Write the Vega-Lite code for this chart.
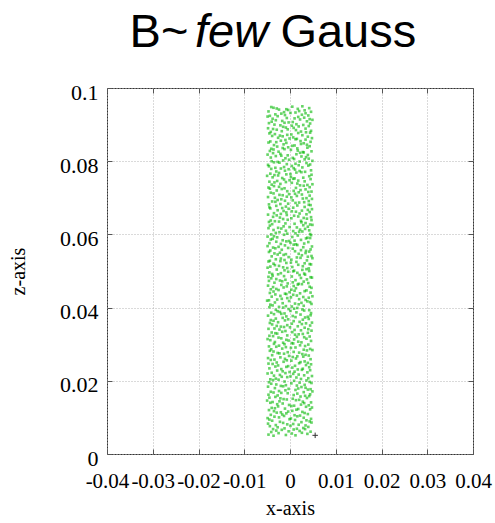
{
  "$schema": "https://vega.github.io/schema/vega-lite/v6.json",
  "width": 366,
  "height": 366,
  "autosize": {"type": "none"},
  "padding": {"left": 107, "top": 88, "right": 22, "bottom": 69},
  "config": {
    "view": {"stroke": "#333333", "strokeWidth": 1},
    "axis": {
      "labelFont": "Liberation Serif",
      "titleFont": "Liberation Serif",
      "titleFontWeight": "normal",
      "labelColor": "#000000",
      "titleColor": "#000000",
      "gridColor": "#b4b4b4",
      "gridDash": [1, 2],
      "gridWidth": 1,
      "tickColor": "#555555",
      "tickSize": -5,
      "domain": false
    }
  },
  "datasets": {
    "cloud": [
      {"x":-0.0047,"z":0.0053},{"x":0.0012,"z":0.0051},{"x":-0.0025,"z":0.0057},{"x":0.0038,"z":0.0055},{"x":-0.0009,"z":0.0052},{"x":0.0026,"z":0.0058},{"x":-0.0036,"z":0.0050},{"x":0.0004,"z":0.0056},
      {"x":0.0045,"z":0.0061},{"x":-0.0018,"z":0.0066},{"x":0.0021,"z":0.0063},{"x":-0.0041,"z":0.0060},{"x":0.0008,"z":0.0067},{"x":-0.0030,"z":0.0064},{"x":0.0033,"z":0.0068},{"x":-0.0003,"z":0.0062},
      {"x":-0.0012,"z":0.0070},{"x":0.0040,"z":0.0074},{"x":-0.0044,"z":0.0076},{"x":0.0015,"z":0.0069},{"x":-0.0027,"z":0.0073},{"x":0.0029,"z":0.0071},{"x":0.0001,"z":0.0077},{"x":-0.0037,"z":0.0068},
      {"x":0.0019,"z":0.0080},{"x":-0.0048,"z":0.0083},{"x":0.0034,"z":0.0078},{"x":-0.0015,"z":0.0085},{"x":0.0007,"z":0.0082},{"x":-0.0031,"z":0.0079},{"x":0.0047,"z":0.0086},{"x":-0.0006,"z":0.0081},
      {"x":-0.0022,"z":0.0088},{"x":0.0011,"z":0.0093},{"x":-0.0039,"z":0.0091},{"x":0.0043,"z":0.0089},{"x":-0.0001,"z":0.0095},{"x":0.0025,"z":0.0087},{"x":-0.0045,"z":0.0094},{"x":0.0036,"z":0.0092},
      {"x":0.0002,"z":0.0097},{"x":-0.0034,"z":0.0102},{"x":0.0030,"z":0.0099},{"x":-0.0013,"z":0.0104},{"x":0.0046,"z":0.0096},{"x":-0.0024,"z":0.0100},{"x":0.0016,"z":0.0103},{"x":-0.0049,"z":0.0098},
      {"x":-0.0042,"z":0.0107},{"x":0.0022,"z":0.0105},{"x":-0.0008,"z":0.0111},{"x":0.0039,"z":0.0109},{"x":-0.0029,"z":0.0113},{"x":0.0010,"z":0.0106},{"x":-0.0017,"z":0.0108},{"x":0.0032,"z":0.0112},
      {"x":0.0027,"z":0.0115},{"x":-0.0046,"z":0.0120},{"x":0.0005,"z":0.0118},{"x":-0.0020,"z":0.0114},{"x":0.0044,"z":0.0122},{"x":-0.0035,"z":0.0117},{"x":0.0014,"z":0.0121},{"x":-0.0004,"z":0.0116},
      {"x":-0.0011,"z":0.0124},{"x":0.0035,"z":0.0129},{"x":-0.0040,"z":0.0126},{"x":0.0018,"z":0.0123},{"x":-0.0026,"z":0.0130},{"x":0.0048,"z":0.0127},{"x":0.0003,"z":0.0131},{"x":-0.0033,"z":0.0125},
      {"x":0.0041,"z":0.0133},{"x":-0.0016,"z":0.0138},{"x":0.0024,"z":0.0135},{"x":-0.0043,"z":0.0140},{"x":0.0009,"z":0.0132},{"x":-0.0028,"z":0.0136},{"x":0.0031,"z":0.0139},{"x":-0.0002,"z":0.0134},
      {"x":-0.0038,"z":0.0142},{"x":0.0013,"z":0.0147},{"x":-0.0023,"z":0.0144},{"x":0.0046,"z":0.0141},{"x":-0.0007,"z":0.0149},{"x":0.0028,"z":0.0143},{"x":-0.0050,"z":0.0146},{"x":0.0020,"z":0.0148},
      {"x":0.0006,"z":0.0151},{"x":-0.0032,"z":0.0156},{"x":0.0037,"z":0.0153},{"x":-0.0014,"z":0.0150},{"x":0.0023,"z":0.0157},{"x":-0.0045,"z":0.0154},{"x":0.0042,"z":0.0158},{"x":-0.0021,"z":0.0152},
      {"x":-0.0027,"z":0.0160},{"x":0.0016,"z":0.0165},{"x":-0.0047,"z":0.0162},{"x":0.0033,"z":0.0159},{"x":-0.0005,"z":0.0166},{"x":0.0044,"z":0.0163},{"x":-0.0019,"z":0.0167},{"x":0.0008,"z":0.0161},
      {"x":0.0030,"z":0.0169},{"x":-0.0010,"z":0.0174},{"x":0.0049,"z":0.0171},{"x":-0.0036,"z":0.0168},{"x":0.0012,"z":0.0175},{"x":-0.0024,"z":0.0172},{"x":0.0039,"z":0.0176},{"x":-0.0042,"z":0.0170},
      {"x":-0.0003,"z":0.0178},{"x":0.0025,"z":0.0183},{"x":-0.0033,"z":0.0180},{"x":0.0045,"z":0.0177},{"x":-0.0015,"z":0.0185},{"x":0.0018,"z":0.0179},{"x":-0.0048,"z":0.0184},{"x":0.0034,"z":0.0181},
      {"x":0.0015,"z":0.0187},{"x":-0.0041,"z":0.0192},{"x":0.0032,"z":0.0189},{"x":-0.0020,"z":0.0186},{"x":0.0047,"z":0.0194},{"x":-0.0009,"z":0.0188},{"x":0.0003,"z":0.0193},{"x":-0.0030,"z":0.0190},
      {"x":-0.0046,"z":0.0196},{"x":0.0036,"z":0.0201},{"x":-0.0012,"z":0.0198},{"x":0.0021,"z":0.0195},{"x":-0.0025,"z":0.0203},{"x":0.0009,"z":0.0200},{"x":0.0043,"z":0.0197},{"x":-0.0037,"z":0.0202},
      {"x":0.0024,"z":0.0205},{"x":-0.0006,"z":0.0210},{"x":0.0040,"z":0.0207},{"x":-0.0043,"z":0.0204},{"x":0.0001,"z":0.0212},{"x":-0.0031,"z":0.0206},{"x":0.0014,"z":0.0209},{"x":-0.0018,"z":0.0211},
      {"x":-0.0035,"z":0.0214},{"x":0.0007,"z":0.0219},{"x":-0.0022,"z":0.0216},{"x":0.0048,"z":0.0213},{"x":-0.0010,"z":0.0221},{"x":0.0031,"z":0.0215},{"x":-0.0049,"z":0.0220},{"x":0.0019,"z":0.0217},
      {"x":0.0038,"z":0.0223},{"x":-0.0028,"z":0.0228},{"x":0.0010,"z":0.0225},{"x":-0.0040,"z":0.0222},{"x":0.0026,"z":0.0230},{"x":-0.0001,"z":0.0224},{"x":0.0044,"z":0.0229},{"x":-0.0016,"z":0.0226},
      {"x":-0.0019,"z":0.0232},{"x":0.0042,"z":0.0237},{"x":-0.0045,"z":0.0234},{"x":0.0017,"z":0.0231},{"x":-0.0032,"z":0.0239},{"x":0.0005,"z":0.0236},{"x":0.0028,"z":0.0233},{"x":-0.0008,"z":0.0238},
      {"x":0.0011,"z":0.0241},{"x":-0.0038,"z":0.0246},{"x":0.0035,"z":0.0243},{"x":-0.0004,"z":0.0240},{"x":0.0020,"z":0.0248},{"x":-0.0026,"z":0.0242},{"x":0.0046,"z":0.0245},{"x":-0.0047,"z":0.0247},
      {"x":-0.0029,"z":0.0250},{"x":0.0003,"z":0.0255},{"x":-0.0014,"z":0.0252},{"x":0.0039,"z":0.0249},{"x":-0.0042,"z":0.0257},{"x":0.0023,"z":0.0251},{"x":-0.0007,"z":0.0256},{"x":0.0032,"z":0.0253},
      {"x":0.0045,"z":0.0259},{"x":-0.0021,"z":0.0264},{"x":0.0013,"z":0.0261},{"x":-0.0034,"z":0.0258},{"x":0.0029,"z":0.0266},{"x":-0.0011,"z":0.0260},{"x":0.0006,"z":0.0265},{"x":-0.0048,"z":0.0262},
      {"x":-0.0002,"z":0.0268},{"x":0.0027,"z":0.0273},{"x":-0.0039,"z":0.0270},{"x":0.0016,"z":0.0267},{"x":-0.0023,"z":0.0275},{"x":0.0041,"z":0.0269},{"x":-0.0013,"z":0.0274},{"x":0.0034,"z":0.0271},
      {"x":0.0020,"z":0.0277},{"x":-0.0044,"z":0.0282},{"x":0.0008,"z":0.0279},{"x":-0.0027,"z":0.0276},{"x":0.0049,"z":0.0284},{"x":-0.0005,"z":0.0278},{"x":0.0037,"z":0.0283},{"x":-0.0036,"z":0.0280},
      {"x":-0.0041,"z":0.0286},{"x":0.0012,"z":0.0291},{"x":-0.0017,"z":0.0288},{"x":0.0030,"z":0.0285},{"x":-0.0030,"z":0.0293},{"x":0.0002,"z":0.0290},{"x":0.0044,"z":0.0287},{"x":-0.0009,"z":0.0292},
      {"x":0.0033,"z":0.0295},{"x":-0.0012,"z":0.0300},{"x":0.0022,"z":0.0297},{"x":-0.0046,"z":0.0294},{"x":0.0007,"z":0.0302},{"x":-0.0024,"z":0.0296},{"x":0.0040,"z":0.0299},{"x":-0.0035,"z":0.0301},
      {"x":-0.0015,"z":0.0304},{"x":0.0046,"z":0.0309},{"x":-0.0033,"z":0.0306},{"x":0.0004,"z":0.0303},{"x":-0.0043,"z":0.0311},{"x":0.0025,"z":0.0305},{"x":-0.0003,"z":0.0310},{"x":0.0018,"z":0.0307},
      {"x":0.0009,"z":0.0313},{"x":-0.0025,"z":0.0318},{"x":0.0036,"z":0.0315},{"x":-0.0008,"z":0.0312},{"x":0.0015,"z":0.0320},{"x":-0.0049,"z":0.0314},{"x":0.0031,"z":0.0319},{"x":-0.0019,"z":0.0316},
      {"x":-0.0037,"z":0.0322},{"x":0.0019,"z":0.0327},{"x":-0.0006,"z":0.0324},{"x":0.0043,"z":0.0321},{"x":-0.0028,"z":0.0329},{"x":0.0011,"z":0.0326},{"x":-0.0045,"z":0.0323},{"x":0.0028,"z":0.0328},
      {"x":0.0039,"z":0.0331},{"x":-0.0010,"z":0.0336},{"x":0.0005,"z":0.0333},{"x":-0.0032,"z":0.0330},{"x":0.0024,"z":0.0338},{"x":-0.0040,"z":0.0332},{"x":0.0047,"z":0.0337},{"x":-0.0017,"z":0.0334},
      {"x":-0.0023,"z":0.0340},{"x":0.0032,"z":0.0345},{"x":-0.0047,"z":0.0342},{"x":0.0010,"z":0.0339},{"x":-0.0013,"z":0.0347},{"x":0.0040,"z":0.0341},{"x":0.0000,"z":0.0346},{"x":-0.0034,"z":0.0343},
      {"x":0.0017,"z":0.0349},{"x":-0.0039,"z":0.0354},{"x":0.0044,"z":0.0351},{"x":-0.0020,"z":0.0348},{"x":0.0004,"z":0.0356},{"x":-0.0029,"z":0.0350},{"x":0.0026,"z":0.0355},{"x":-0.0006,"z":0.0352},
      {"x":-0.0044,"z":0.0358},{"x":0.0008,"z":0.0363},{"x":-0.0026,"z":0.0360},{"x":0.0035,"z":0.0357},{"x":-0.0011,"z":0.0365},{"x":0.0048,"z":0.0359},{"x":-0.0036,"z":0.0364},{"x":0.0021,"z":0.0361},
      {"x":0.0028,"z":0.0367},{"x":-0.0016,"z":0.0372},{"x":0.0041,"z":0.0369},{"x":-0.0042,"z":0.0366},{"x":0.0012,"z":0.0374},{"x":-0.0004,"z":0.0368},{"x":0.0033,"z":0.0373},{"x":-0.0031,"z":0.0370},
      {"x":-0.0008,"z":0.0376},{"x":0.0023,"z":0.0381},{"x":-0.0048,"z":0.0378},{"x":0.0039,"z":0.0375},{"x":-0.0019,"z":0.0383},{"x":0.0006,"z":0.0377},{"x":-0.0035,"z":0.0382},{"x":0.0045,"z":0.0379},
      {"x":0.0046,"z":0.0385},{"x":-0.0027,"z":0.0390},{"x":0.0014,"z":0.0387},{"x":-0.0012,"z":0.0384},{"x":0.0031,"z":0.0392},{"x":-0.0041,"z":0.0386},{"x":0.0001,"z":0.0391},{"x":-0.0022,"z":0.0388},
      {"x":-0.0031,"z":0.0394},{"x":0.0016,"z":0.0399},{"x":-0.0003,"z":0.0396},{"x":0.0042,"z":0.0393},{"x":-0.0045,"z":0.0401},{"x":0.0027,"z":0.0395},{"x":-0.0015,"z":0.0400},{"x":0.0009,"z":0.0397},
      {"x":0.0004,"z":0.0403},{"x":-0.0043,"z":0.0408},{"x":0.0030,"z":0.0405},{"x":-0.0024,"z":0.0402},{"x":0.0047,"z":0.0410},{"x":-0.0009,"z":0.0404},{"x":0.0019,"z":0.0409},{"x":-0.0038,"z":0.0406},
      {"x":-0.0016,"z":0.0412},{"x":0.0038,"z":0.0417},{"x":-0.0033,"z":0.0414},{"x":0.0011,"z":0.0411},{"x":-0.0050,"z":0.0419},{"x":0.0025,"z":0.0413},{"x":-0.0002,"z":0.0418},{"x":0.0044,"z":0.0415},
      {"x":0.0034,"z":0.0421},{"x":-0.0006,"z":0.0426},{"x":0.0020,"z":0.0423},{"x":-0.0046,"z":0.0420},{"x":0.0002,"z":0.0428},{"x":-0.0028,"z":0.0422},{"x":0.0041,"z":0.0427},{"x":-0.0018,"z":0.0424},
      {"x":-0.0040,"z":0.0430},{"x":0.0007,"z":0.0435},{"x":-0.0021,"z":0.0432},{"x":0.0029,"z":0.0429},{"x":-0.0008,"z":0.0437},{"x":0.0049,"z":0.0431},{"x":-0.0032,"z":0.0436},{"x":0.0015,"z":0.0433},
      {"x":0.0022,"z":0.0439},{"x":-0.0036,"z":0.0444},{"x":0.0045,"z":0.0441},{"x":-0.0011,"z":0.0438},{"x":0.0010,"z":0.0446},{"x":-0.0044,"z":0.0440},{"x":0.0032,"z":0.0445},{"x":-0.0001,"z":0.0442},
      {"x":-0.0025,"z":0.0448},{"x":0.0013,"z":0.0453},{"x":-0.0042,"z":0.0450},{"x":0.0036,"z":0.0447},{"x":-0.0014,"z":0.0455},{"x":0.0003,"z":0.0449},{"x":0.0047,"z":0.0454},{"x":-0.0030,"z":0.0451},
      {"x":0.0043,"z":0.0457},{"x":-0.0019,"z":0.0462},{"x":0.0008,"z":0.0459},{"x":-0.0037,"z":0.0456},{"x":0.0026,"z":0.0464},{"x":-0.0007,"z":0.0458},{"x":0.0017,"z":0.0463},{"x":-0.0048,"z":0.0460},
      {"x":-0.0005,"z":0.0466},{"x":0.0030,"z":0.0471},{"x":-0.0034,"z":0.0468},{"x":0.0019,"z":0.0465},{"x":-0.0046,"z":0.0473},{"x":0.0040,"z":0.0467},{"x":-0.0017,"z":0.0472},{"x":0.0006,"z":0.0469},
      {"x":0.0012,"z":0.0475},{"x":-0.0041,"z":0.0480},{"x":0.0037,"z":0.0477},{"x":-0.0022,"z":0.0474},{"x":0.0048,"z":0.0482},{"x":-0.0010,"z":0.0476},{"x":0.0024,"z":0.0481},{"x":-0.0030,"z":0.0478},
      {"x":-0.0047,"z":0.0484},{"x":0.0021,"z":0.0489},{"x":-0.0013,"z":0.0486},{"x":0.0045,"z":0.0483},{"x":-0.0026,"z":0.0491},{"x":0.0004,"z":0.0485},{"x":0.0033,"z":0.0490},{"x":-0.0038,"z":0.0487},
      {"x":0.0031,"z":0.0493},{"x":-0.0004,"z":0.0498},{"x":0.0016,"z":0.0495},{"x":-0.0039,"z":0.0492},{"x":0.0042,"z":0.0500},{"x":-0.0020,"z":0.0494},{"x":0.0007,"z":0.0499},{"x":-0.0045,"z":0.0496},
      {"x":-0.0012,"z":0.0502},{"x":0.0041,"z":0.0507},{"x":-0.0029,"z":0.0504},{"x":0.0009,"z":0.0501},{"x":-0.0049,"z":0.0509},{"x":0.0027,"z":0.0503},{"x":-0.0006,"z":0.0508},{"x":0.0036,"z":0.0505},
      {"x":0.0005,"z":0.0511},{"x":-0.0033,"z":0.0516},{"x":0.0028,"z":0.0513},{"x":-0.0015,"z":0.0510},{"x":0.0046,"z":0.0518},{"x":-0.0043,"z":0.0512},{"x":0.0018,"z":0.0517},{"x":-0.0024,"z":0.0514},
      {"x":-0.0036,"z":0.0520},{"x":0.0014,"z":0.0525},{"x":-0.0008,"z":0.0522},{"x":0.0043,"z":0.0519},{"x":-0.0021,"z":0.0527},{"x":0.0032,"z":0.0521},{"x":-0.0047,"z":0.0526},{"x":0.0002,"z":0.0523},
      {"x":0.0037,"z":0.0529},{"x":-0.0020,"z":0.0534},{"x":0.0003,"z":0.0531},{"x":-0.0044,"z":0.0528},{"x":0.0023,"z":0.0536},{"x":-0.0012,"z":0.0530},{"x":0.0049,"z":0.0535},{"x":-0.0031,"z":0.0532},
      {"x":-0.0003,"z":0.0538},{"x":0.0026,"z":0.0543},{"x":-0.0040,"z":0.0540},{"x":0.0015,"z":0.0537},{"x":-0.0027,"z":0.0545},{"x":0.0039,"z":0.0539},{"x":-0.0014,"z":0.0544},{"x":0.0047,"z":0.0541},
      {"x":0.0019,"z":0.0547},{"x":-0.0046,"z":0.0552},{"x":0.0034,"z":0.0549},{"x":-0.0009,"z":0.0546},{"x":0.0011,"z":0.0554},{"x":-0.0034,"z":0.0548},{"x":0.0042,"z":0.0553},{"x":-0.0022,"z":0.0550},
      {"x":-0.0043,"z":0.0556},{"x":0.0006,"z":0.0561},{"x":-0.0018,"z":0.0558},{"x":0.0035,"z":0.0555},{"x":-0.0004,"z":0.0563},{"x":0.0024,"z":0.0557},{"x":-0.0032,"z":0.0562},{"x":0.0045,"z":0.0559},
      {"x":0.0029,"z":0.0565},{"x":-0.0011,"z":0.0570},{"x":0.0048,"z":0.0567},{"x":-0.0037,"z":0.0564},{"x":0.0008,"z":0.0572},{"x":-0.0025,"z":0.0566},{"x":0.0016,"z":0.0571},{"x":-0.0049,"z":0.0568},
      {"x":-0.0020,"z":0.0574},{"x":0.0040,"z":0.0579},{"x":-0.0045,"z":0.0576},{"x":0.0013,"z":0.0573},{"x":-0.0008,"z":0.0581},{"x":0.0031,"z":0.0575},{"x":-0.0030,"z":0.0580},{"x":0.0001,"z":0.0577},
      {"x":0.0010,"z":0.0583},{"x":-0.0038,"z":0.0588},{"x":0.0024,"z":0.0585},{"x":-0.0002,"z":0.0582},{"x":0.0044,"z":0.0590},{"x":-0.0016,"z":0.0584},{"x":0.0035,"z":0.0589},{"x":-0.0042,"z":0.0586},
      {"x":-0.0028,"z":0.0592},{"x":0.0017,"z":0.0597},{"x":-0.0049,"z":0.0594},{"x":0.0038,"z":0.0591},{"x":-0.0013,"z":0.0599},{"x":0.0005,"z":0.0593},{"x":0.0046,"z":0.0598},{"x":-0.0035,"z":0.0595},
      {"x":0.0044,"z":0.0601},{"x":-0.0023,"z":0.0606},{"x":0.0012,"z":0.0603},{"x":-0.0041,"z":0.0600},{"x":0.0027,"z":0.0608},{"x":-0.0006,"z":0.0602},{"x":0.0020,"z":0.0607},{"x":-0.0031,"z":0.0604},
      {"x":-0.0009,"z":0.0610},{"x":0.0033,"z":0.0615},{"x":-0.0036,"z":0.0612},{"x":0.0007,"z":0.0609},{"x":-0.0047,"z":0.0617},{"x":0.0042,"z":0.0611},{"x":-0.0019,"z":0.0616},{"x":0.0022,"z":0.0613},
      {"x":0.0015,"z":0.0619},{"x":-0.0044,"z":0.0624},{"x":0.0039,"z":0.0621},{"x":-0.0026,"z":0.0618},{"x":0.0049,"z":0.0626},{"x":-0.0001,"z":0.0620},{"x":0.0029,"z":0.0625},{"x":-0.0014,"z":0.0622},
      {"x":-0.0039,"z":0.0628},{"x":0.0025,"z":0.0633},{"x":-0.0010,"z":0.0630},{"x":0.0044,"z":0.0627},{"x":-0.0024,"z":0.0635},{"x":0.0010,"z":0.0629},{"x":-0.0046,"z":0.0634},{"x":0.0034,"z":0.0631},
      {"x":0.0024,"z":0.0637},{"x":-0.0015,"z":0.0642},{"x":0.0047,"z":0.0639},{"x":-0.0033,"z":0.0636},{"x":0.0003,"z":0.0644},{"x":-0.0042,"z":0.0638},{"x":0.0037,"z":0.0643},{"x":-0.0005,"z":0.0640},
      {"x":-0.0022,"z":0.0646},{"x":0.0009,"z":0.0651},{"x":-0.0037,"z":0.0648},{"x":0.0030,"z":0.0645},{"x":-0.0007,"z":0.0653},{"x":0.0046,"z":0.0647},{"x":-0.0029,"z":0.0652},{"x":0.0018,"z":0.0649},
      {"x":0.0036,"z":0.0655},{"x":-0.0008,"z":0.0660},{"x":0.0021,"z":0.0657},{"x":-0.0048,"z":0.0654},{"x":0.0013,"z":0.0662},{"x":-0.0020,"z":0.0656},{"x":0.0043,"z":0.0661},{"x":-0.0035,"z":0.0658},
      {"x":-0.0014,"z":0.0664},{"x":0.0048,"z":0.0669},{"x":-0.0027,"z":0.0666},{"x":0.0004,"z":0.0663},{"x":-0.0043,"z":0.0671},{"x":0.0026,"z":0.0665},{"x":-0.0003,"z":0.0670},{"x":0.0039,"z":0.0667},
      {"x":0.0007,"z":0.0673},{"x":-0.0030,"z":0.0678},{"x":0.0032,"z":0.0675},{"x":-0.0017,"z":0.0672},{"x":0.0045,"z":0.0680},{"x":-0.0045,"z":0.0674},{"x":0.0016,"z":0.0679},{"x":-0.0009,"z":0.0676},
      {"x":-0.0046,"z":0.0682},{"x":0.0020,"z":0.0687},{"x":-0.0004,"z":0.0684},{"x":0.0041,"z":0.0681},{"x":-0.0032,"z":0.0689},{"x":0.0012,"z":0.0686},{"x":-0.0021,"z":0.0683},{"x":0.0031,"z":0.0688},
      {"x":0.0041,"z":0.0691},{"x":-0.0019,"z":0.0696},{"x":0.0006,"z":0.0693},{"x":-0.0039,"z":0.0690},{"x":0.0028,"z":0.0698},{"x":-0.0011,"z":0.0692},{"x":0.0048,"z":0.0697},{"x":-0.0027,"z":0.0694},
      {"x":-0.0033,"z":0.0700},{"x":0.0015,"z":0.0705},{"x":-0.0048,"z":0.0702},{"x":0.0036,"z":0.0699},{"x":-0.0016,"z":0.0707},{"x":0.0003,"z":0.0701},{"x":0.0043,"z":0.0706},{"x":-0.0007,"z":0.0703},
      {"x":0.0026,"z":0.0709},{"x":-0.0042,"z":0.0714},{"x":0.0011,"z":0.0711},{"x":-0.0023,"z":0.0708},{"x":0.0040,"z":0.0716},{"x":-0.0002,"z":0.0710},{"x":0.0019,"z":0.0715},{"x":-0.0036,"z":0.0712},
      {"x":-0.0006,"z":0.0718},{"x":0.0034,"z":0.0723},{"x":-0.0029,"z":0.0720},{"x":0.0047,"z":0.0717},{"x":-0.0044,"z":0.0725},{"x":0.0008,"z":0.0719},{"x":-0.0018,"z":0.0724},{"x":0.0023,"z":0.0721},
      {"x":0.0013,"z":0.0727},{"x":-0.0035,"z":0.0732},{"x":0.0043,"z":0.0729},{"x":-0.0012,"z":0.0726},{"x":0.0022,"z":0.0734},{"x":-0.0047,"z":0.0728},{"x":0.0030,"z":0.0733},{"x":-0.0024,"z":0.0730},
      {"x":-0.0040,"z":0.0736},{"x":0.0004,"z":0.0741},{"x":-0.0021,"z":0.0738},{"x":0.0038,"z":0.0735},{"x":-0.0009,"z":0.0743},{"x":0.0049,"z":0.0737},{"x":-0.0034,"z":0.0742},{"x":0.0016,"z":0.0739},
      {"x":0.0032,"z":0.0745},{"x":-0.0013,"z":0.0750},{"x":0.0018,"z":0.0747},{"x":-0.0045,"z":0.0744},{"x":0.0007,"z":0.0752},{"x":-0.0028,"z":0.0746},{"x":0.0045,"z":0.0751},{"x":-0.0001,"z":0.0748},
      {"x":-0.0017,"z":0.0754},{"x":0.0042,"z":0.0759},{"x":-0.0038,"z":0.0756},{"x":0.0010,"z":0.0753},{"x":-0.0026,"z":0.0761},{"x":0.0029,"z":0.0755},{"x":-0.0050,"z":0.0760},{"x":0.0002,"z":0.0757},
      {"x":0.0047,"z":0.0763},{"x":-0.0024,"z":0.0768},{"x":0.0001,"z":0.0765},{"x":-0.0034,"z":0.0762},{"x":0.0025,"z":0.0770},{"x":-0.0008,"z":0.0764},{"x":0.0014,"z":0.0769},{"x":-0.0043,"z":0.0766},
      {"x":-0.0030,"z":0.0772},{"x":0.0011,"z":0.0777},{"x":-0.0011,"z":0.0774},{"x":0.0033,"z":0.0771},{"x":-0.0041,"z":0.0779},{"x":0.0021,"z":0.0773},{"x":-0.0003,"z":0.0778},{"x":0.0046,"z":0.0775},
      {"x":0.0008,"z":0.0781},{"x":-0.0046,"z":0.0786},{"x":0.0027,"z":0.0783},{"x":-0.0020,"z":0.0780},{"x":0.0040,"z":0.0788},{"x":-0.0032,"z":0.0782},{"x":0.0004,"z":0.0787},{"x":-0.0013,"z":0.0784},
      {"x":-0.0048,"z":0.0790},{"x":0.0036,"z":0.0795},{"x":-0.0007,"z":0.0792},{"x":0.0019,"z":0.0789},{"x":-0.0035,"z":0.0797},{"x":0.0044,"z":0.0791},{"x":-0.0023,"z":0.0796},{"x":0.0012,"z":0.0793},
      {"x":0.0021,"z":0.0799},{"x":-0.0002,"z":0.0804},{"x":0.0049,"z":0.0801},{"x":-0.0027,"z":0.0798},{"x":0.0009,"z":0.0806},{"x":-0.0040,"z":0.0800},{"x":0.0032,"z":0.0805},{"x":-0.0015,"z":0.0802},
      {"x":-0.0010,"z":0.0808},{"x":0.0025,"z":0.0813},{"x":-0.0042,"z":0.0810},{"x":0.0041,"z":0.0807},{"x":-0.0019,"z":0.0815},{"x":0.0006,"z":0.0809},{"x":-0.0031,"z":0.0814},{"x":0.0035,"z":0.0811},
      {"x":0.0039,"z":0.0817},{"x":-0.0037,"z":0.0822},{"x":0.0014,"z":0.0819},{"x":-0.0005,"z":0.0816},{"x":0.0030,"z":0.0824},{"x":-0.0049,"z":0.0818},{"x":0.0022,"z":0.0823},{"x":-0.0021,"z":0.0820},
      {"x":-0.0025,"z":0.0826},{"x":0.0002,"z":0.0831},{"x":-0.0044,"z":0.0828},{"x":0.0028,"z":0.0825},{"x":-0.0012,"z":0.0833},{"x":0.0047,"z":0.0827},{"x":-0.0036,"z":0.0832},{"x":0.0017,"z":0.0829},
      {"x":0.0016,"z":0.0835},{"x":-0.0028,"z":0.0840},{"x":0.0038,"z":0.0837},{"x":-0.0041,"z":0.0834},{"x":0.0005,"z":0.0842},{"x":-0.0016,"z":0.0836},{"x":0.0043,"z":0.0841},{"x":-0.0004,"z":0.0838},
      {"x":-0.0035,"z":0.0844},{"x":0.0030,"z":0.0849},{"x":-0.0014,"z":0.0846},{"x":0.0010,"z":0.0843},{"x":-0.0047,"z":0.0851},{"x":0.0037,"z":0.0845},{"x":-0.0008,"z":0.0850},{"x":0.0024,"z":0.0847},
      {"x":0.0045,"z":0.0853},{"x":-0.0010,"z":0.0858},{"x":0.0023,"z":0.0855},{"x":-0.0030,"z":0.0852},{"x":0.0012,"z":0.0860},{"x":-0.0043,"z":0.0854},{"x":0.0034,"z":0.0859},{"x":-0.0020,"z":0.0856},
      {"x":-0.0001,"z":0.0862},{"x":0.0039,"z":0.0867},{"x":-0.0026,"z":0.0864},{"x":0.0015,"z":0.0861},{"x":-0.0039,"z":0.0869},{"x":0.0048,"z":0.0863},{"x":-0.0016,"z":0.0868},{"x":0.0007,"z":0.0865},
      {"x":0.0027,"z":0.0871},{"x":-0.0045,"z":0.0876},{"x":0.0003,"z":0.0873},{"x":-0.0022,"z":0.0870},{"x":0.0044,"z":0.0878},{"x":-0.0006,"z":0.0872},{"x":0.0018,"z":0.0877},{"x":-0.0033,"z":0.0874},
      {"x":-0.0042,"z":0.0880},{"x":0.0013,"z":0.0885},{"x":-0.0018,"z":0.0882},{"x":0.0035,"z":0.0879},{"x":-0.0005,"z":0.0887},{"x":0.0024,"z":0.0881},{"x":-0.0029,"z":0.0886},{"x":0.0046,"z":0.0883},
      {"x":0.0034,"z":0.0889},{"x":-0.0015,"z":0.0894},{"x":0.0008,"z":0.0891},{"x":-0.0037,"z":0.0888},{"x":0.0041,"z":0.0896},{"x":-0.0048,"z":0.0890},{"x":0.0019,"z":0.0895},{"x":-0.0009,"z":0.0892},
      {"x":-0.0021,"z":0.0898},{"x":0.0044,"z":0.0903},{"x":-0.0034,"z":0.0900},{"x":0.0004,"z":0.0897},{"x":-0.0012,"z":0.0905},{"x":0.0029,"z":0.0899},{"x":-0.0046,"z":0.0904},{"x":0.0014,"z":0.0901},
      {"x":0.0006,"z":0.0907},{"x":-0.0031,"z":0.0912},{"x":0.0037,"z":0.0909},{"x":-0.0003,"z":0.0906},{"x":0.0022,"z":0.0914},{"x":-0.0040,"z":0.0908},{"x":0.0049,"z":0.0913},{"x":-0.0017,"z":0.0910},
      {"x":-0.0038,"z":0.0916},{"x":0.0018,"z":0.0921},{"x":-0.0007,"z":0.0918},{"x":0.0043,"z":0.0915},{"x":-0.0027,"z":0.0923},{"x":0.0010,"z":0.0917},{"x":-0.0049,"z":0.0922},{"x":0.0031,"z":0.0919},
      {"x":0.0040,"z":0.0925},{"x":-0.0019,"z":0.0930},{"x":0.0026,"z":0.0927},{"x":-0.0044,"z":0.0924},{"x":0.0001,"z":0.0932},{"x":-0.0011,"z":0.0926},{"x":0.0034,"z":0.0931},{"x":-0.0032,"z":0.0928},
      {"x":-0.0013,"z":0.0934},{"x":0.0032,"z":0.0939},{"x":-0.0047,"z":0.0936},{"x":0.0012,"z":0.0933},{"x":-0.0024,"z":0.0941},{"x":0.0046,"z":0.0935},{"x":-0.0004,"z":0.0940},{"x":0.0020,"z":0.0937},
      {"x":0.0017,"z":0.0943},{"x":-0.0041,"z":0.0948},{"x":0.0042,"z":0.0945},{"x":-0.0008,"z":0.0942},{"x":0.0027,"z":0.0950},{"x":-0.0029,"z":0.0944},{"x":0.0005,"z":0.0949},{"x":-0.0036,"z":0.0946}
    ]
  },
  "resolve": {"axis": {"x": "independent", "y": "independent"}},
  "layer": [
    {
      "data": {"name": "cloud"},
      "mark": {"type": "point", "shape": "square", "filled": true, "size": 7, "color": "#00b800", "opacity": 0.6},
      "encoding": {
        "x": {
          "field": "x", "type": "quantitative",
          "scale": {"domain": [-0.04, 0.04], "nice": false, "zero": false},
          "axis": {
            "orient": "bottom", "title": "x-axis", "grid": true,
            "values": [-0.04, -0.03, -0.02, -0.01, 0, 0.01, 0.02, 0.03, 0.04],
            "format": "~g", "labelExpr": "replace(datum.label, '\u2212', '-')",
            "labelFontSize": 21, "labelPadding": 21, "labelFlush": false, "labelOverlap": false,
            "titleFontSize": 20, "titlePadding": 7
          }
        },
        "y": {
          "field": "z", "type": "quantitative",
          "scale": {"domain": [0, 0.1], "nice": false, "zero": false},
          "axis": {
            "orient": "left", "title": "z-axis", "grid": true,
            "values": [0, 0.02, 0.04, 0.06, 0.08, 0.1],
            "format": "~g",
            "labelFontSize": 22, "labelPadding": 14, "labelOffset": 4, "labelFlush": false, "labelOverlap": false,
            "titleFontSize": 20, "titlePadding": 31
          }
        }
      }
    },
    {
      "data": {"values": [{"x": 0.0055, "z": 0.0051}]},
      "mark": {"type": "point", "shape": "M-1,0H1M0,-1V1", "filled": false, "size": 30, "stroke": "#333333", "strokeWidth": 1, "opacity": 1},
      "encoding": {
        "x": {
          "field": "x", "type": "quantitative",
          "axis": {"orient": "top", "title": null, "labels": false, "grid": false,
                   "values": [-0.04, -0.03, -0.02, -0.01, 0, 0.01, 0.02, 0.03, 0.04]}
        },
        "y": {
          "field": "z", "type": "quantitative",
          "axis": {"orient": "right", "title": null, "labels": false, "grid": false,
                   "values": [0, 0.02, 0.04, 0.06, 0.08, 0.1]}
        }
      }
    },
    {
      "data": {"values": [{}]},
      "mark": {"type": "text", "text": "B~", "font": "Liberation Sans", "fontSize": 47, "align": "left", "baseline": "alphabetic", "color": "#000000", "clip": false},
      "encoding": {
        "x": {"datum": -0.03506, "type": "quantitative", "axis": null},
        "y": {"datum": 0.1112, "type": "quantitative", "axis": null}
      }
    },
    {
      "data": {"values": [{}]},
      "mark": {"type": "text", "text": "few", "font": "Liberation Sans", "fontStyle": "italic", "fontSize": 47, "align": "left", "baseline": "alphabetic", "color": "#000000", "clip": false},
      "encoding": {
        "x": {"datum": -0.02077, "type": "quantitative", "axis": null},
        "y": {"datum": 0.1112, "type": "quantitative", "axis": null}
      }
    },
    {
      "data": {"values": [{}]},
      "mark": {"type": "text", "text": "Gauss", "font": "Liberation Sans", "fontSize": 47, "align": "left", "baseline": "alphabetic", "color": "#000000", "clip": false},
      "encoding": {
        "x": {"datum": -0.0021, "type": "quantitative", "axis": null},
        "y": {"datum": 0.1112, "type": "quantitative", "axis": null}
      }
    }
  ]
}
